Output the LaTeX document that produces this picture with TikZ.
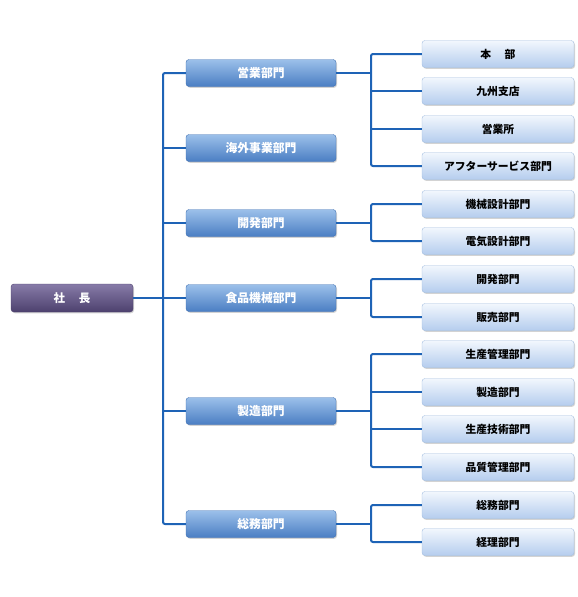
\documentclass[tikz,border=0pt]{standalone}
\usepackage{fontspec}
\setmainfont{Noto Sans CJK JP}
\usetikzlibrary{shadows}
\definecolor{linec}{HTML}{1E63B6}
\definecolor{lonetop}{HTML}{9CC0EA}
\definecolor{lonebot}{HTML}{4A7EC3}
\definecolor{loneedge}{HTML}{3F70B2}
\definecolor{ltwotop}{HTML}{F2F7FD}
\definecolor{ltwobot}{HTML}{B5CDEE}
\definecolor{ltwoedge}{HTML}{A3BEE0}
\definecolor{prestop}{HTML}{877BA8}
\definecolor{presbot}{HTML}{4D416E}
\begin{document}
\begin{tikzpicture}[x=1pt,y=-1pt,
  boxbase/.style={rounded corners=3pt, inner sep=0pt, minimum height=27pt,
    drop shadow={shadow xshift=1pt,shadow yshift=-1.3pt,opacity=0.35}},
  lone/.style={boxbase, minimum width=150pt, top color=lonetop, bottom color=lonebot,
    draw=loneedge, line width=0.4pt, text=white,
    font=\fontsize{11.8}{13}\selectfont\bfseries},
  ltwo/.style={boxbase, minimum width=152pt, top color=ltwotop, bottom color=ltwobot,
    draw=ltwoedge, line width=0.4pt, text=black,
    font=\fontsize{10.8}{12}\selectfont\bfseries},
  pres/.style={boxbase, minimum width=122pt, minimum height=28pt, top color=prestop,
    bottom color=presbot, draw=presbot, line width=0.4pt, text=white,
    font=\fontsize{11.5}{13}\selectfont\bfseries},
  conn/.style={draw=linec, line width=2pt, rounded corners=2pt}]
\useasboundingbox (0,0) rectangle (578,597);

% president
\node[pres] (p) at (72,298) {社\hspace{1.2em}長};

% level 1
\node[lone] (a) at (261,73) {営業部門};
\node[lone] (b) at (261,148) {海外事業部門};
\node[lone] (c) at (261,223) {開発部門};
\node[lone] (d) at (261,298) {食品機械部門};
\node[lone] (e) at (261,411) {製造部門};
\node[lone] (f) at (261,524) {総務部門};

% level 2
\node[ltwo] (a1) at (498,54) {本\hspace{1.25em}部};
\node[ltwo] (a2) at (498,91) {九州支店};
\node[ltwo] (a3) at (498,129) {営業所};
\node[ltwo] (a4) at (498,166) {アフターサービス部門};
\node[ltwo] (c1) at (498,204) {機械設計部門};
\node[ltwo] (c2) at (498,241) {電気設計部門};
\node[ltwo] (d1) at (498,279) {開発部門};
\node[ltwo] (d2) at (498,317) {販売部門};
\node[ltwo] (e1) at (498,354) {生産管理部門};
\node[ltwo] (e2) at (498,392) {製造部門};
\node[ltwo] (e3) at (498,429) {生産技術部門};
\node[ltwo] (e4) at (498,467) {品質管理部門};
\node[ltwo] (f1) at (498,505) {総務部門};
\node[ltwo] (f2) at (498,542) {経理部門};

% trunk
\coordinate (tj) at (163,298);
\draw[conn] (a.west) -| (tj) |- (f.west);
\draw[conn] (b.west) -- (b.west -| tj);
\draw[conn] (c.west) -- (c.west -| tj);
\draw[conn] (d.west) -- (d.west -| tj);
\draw[conn] (e.west) -- (e.west -| tj);
\draw[conn] (p.east) -- (p.east -| tj);

% branches
\coordinate (ja) at (371,73);
\draw[conn] (a1.west) -| (ja) |- (a4.west);
\draw[conn] (a2.west) -- (a2.west -| ja);
\draw[conn] (a3.west) -- (a3.west -| ja);
\draw[conn] (a.east) -- (ja);

\coordinate (jc) at (371,223);
\draw[conn] (c1.west) -| (jc) |- (c2.west);
\draw[conn] (c.east) -- (jc);

\coordinate (jd) at (371,298);
\draw[conn] (d1.west) -| (jd) |- (d2.west);
\draw[conn] (d.east) -- (jd);

\coordinate (je) at (371,411);
\draw[conn] (e1.west) -| (je) |- (e4.west);
\draw[conn] (e2.west) -- (e2.west -| je);
\draw[conn] (e3.west) -- (e3.west -| je);
\draw[conn] (e.east) -- (je);

\coordinate (jf) at (371,524);
\draw[conn] (f1.west) -| (jf) |- (f2.west);
\draw[conn] (f.east) -- (jf);
\end{tikzpicture}
\end{document}
